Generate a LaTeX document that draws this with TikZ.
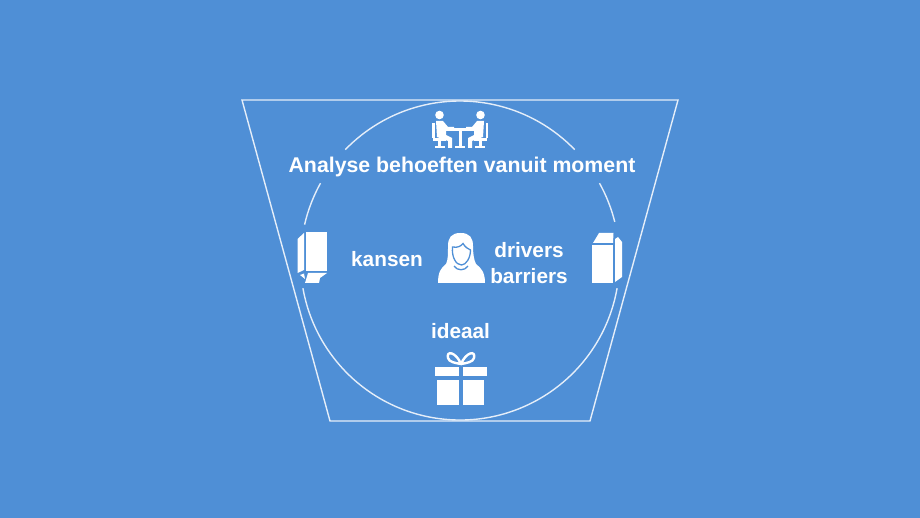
\documentclass[tikz,border=0pt]{standalone}
\usepackage{fontspec}
\setmainfont{Liberation Sans}
\definecolor{bluebg}{HTML}{4F8FD6}
\tikzset{
  outline/.style={draw=white!85!bluebg,line width=1.4pt},
  tag/.style={text=white,font=\bfseries\fontsize{20.8}{24}\selectfont,inner sep=0pt}
}
\begin{document}
\begin{tikzpicture}[x=1pt,y=-1pt]
\useasboundingbox (0,0) rectangle (920,518);
\fill[bluebg] (0,0) rectangle (920,518);

\coordinate (center) at (460,260.5);
\coordinate (tl) at (242,100);
\coordinate (tr) at (678,100);
\coordinate (br) at (590,421);
\coordinate (bl) at (330,421);

% funnel
\draw[outline] (tl) -- (tr) -- (br) -- (bl) -- cycle;

% circle, broken by the texts and packs
\draw[outline] ([shift={(224:159.5)}]center) arc [radius=159.5, start angle=224, end angle=316];
\draw[outline] ([shift={(193:159.5)}]center) arc [radius=159.5, start angle=193, end angle=209];
\draw[outline] ([shift={(331:159.5)}]center) arc [radius=159.5, start angle=331, end angle=346];
\draw[outline] ([shift={(10:159.5)}]center) arc [radius=159.5, start angle=10, end angle=170];

% texts
\node[tag,font=\bfseries\fontsize{21.3}{24}\selectfont] (analyse) at (462,166.5) {Analyse behoeften vanuit moment};
\node[tag] (kansen) at (387,259) {kansen};
\node[tag] (drivers) at (529,250) {drivers};
\node[tag] (barriers) at (529,276) {barriers};
\node[tag] (ideaal) at (460.5,331) {ideaal};

% people at table
\fill[white] (439.5,115) circle (4.3);
\fill[white] (480.5,115) circle (4.3);
\fill[white] (436,121) -- (443,121) -- (448,127) -- (454,127) -- (454,130.5) -- (446,131) -- (446,135) -- (452,138) -- (452,148) -- (448,148) -- (448,141) -- (437,137) -- cycle;
\fill[white] (484,121) -- (477,121) -- (472,127) -- (466,127) -- (466,130.5) -- (474,131) -- (474,135) -- (468,138) -- (468,148) -- (472,148) -- (472,141) -- (483,137) -- cycle;
\fill[white] (432,123) rectangle (434.5,138);
\fill[white] (485.5,123) rectangle (488,138);
\fill[white] (433,138) rectangle (446,141);
\fill[white] (474,138) rectangle (487,141);
\fill[white] (438,141) rectangle (441,147);
\fill[white] (479,141) rectangle (482,147);
\fill[white] (435,146.5) rectangle (445,148.5);
\fill[white] (475,146.5) rectangle (485,148.5);
\fill[white] (447,128) rectangle (473,131);
\fill[white] (458.5,131) rectangle (461.5,147);
\fill[white] (455,146.5) rectangle (465,148.5);

% left pack
\fill[white] (306,232) rectangle (327,271);
\fill[white] (304,233) -- (304,270) -- (297.5,273) -- (297.5,239) -- cycle;
\fill[white] (308,273) -- (327,273) -- (320,278) -- (319,283) -- (305,283) -- cycle;
\fill[white] (300,275) -- (304,273.5) -- (305,279) -- cycle;

% right pack
\fill[white] (592,245) rectangle (613,283);
\fill[white] (593,243) -- (599,233) -- (613.5,233) -- (613,243) -- cycle;
\fill[white] (615,239) -- (618,237) -- (622,242) -- (622,277) -- (615,282) -- cycle;

% woman
\fill[white] (460.5,233) .. controls (451,233) and (448,238) .. (448,246) .. controls (448,254) and (448,260) .. (446,264) .. controls (441,268) and (438,272) .. (438,283) -- (485,283) .. controls (485,272) and (481,268) .. (476,264) .. controls (474,260) and (473,254) .. (473,246) .. controls (473,238) and (470,233) .. (460.5,233) -- cycle;
\draw[bluebg,line width=1.3pt] (452.5,247) .. controls (458,248) and (461,246) .. (463,243.5) .. controls (465,247) and (468,249) .. (470.5,250) .. controls (470.5,258) and (466,265) .. (461.5,265) .. controls (456,265) and (451.5,257) .. (452.5,247) -- cycle;
\draw[bluebg,line width=1.3pt] (454,266) .. controls (457,271) and (465,271) .. (468,266);

% gift
\fill[white] (435,367) rectangle (459,376);
\fill[white] (463,367) rectangle (486.5,376);
\fill[white] (437,380) rectangle (459,405);
\fill[white] (463,380) rectangle (484,405);
\draw[white,line width=2.4pt] (461,364) .. controls (456,352) and (446,350) .. (448,358) .. controls (449,362) and (455,363) .. (461,364) .. controls (466,352) and (476,350) .. (474,358) .. controls (473,362) and (467,363) .. (461,364);
\end{tikzpicture}
\end{document}
